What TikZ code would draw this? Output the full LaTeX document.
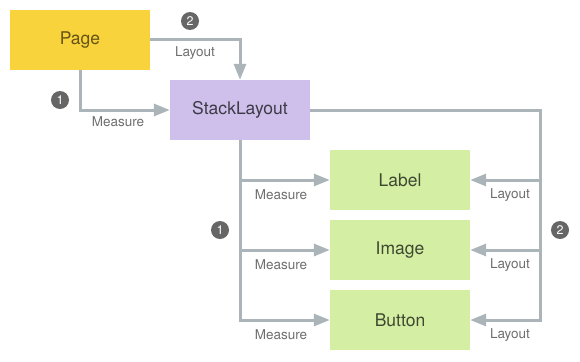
\documentclass[tikz,border=0pt]{standalone}
\usepackage{fontspec}
\setmainfont{TeX Gyre Heros}
\usepackage{xcolor}
\usetikzlibrary{positioning,calc,arrows.meta}

\definecolor{pagefill}{HTML}{F9D33C}
\definecolor{stackfill}{HTML}{CEC0EB}
\definecolor{viewfill}{HTML}{D4EFA4}
\definecolor{wire}{HTML}{AAB4B9}
\definecolor{badgefill}{HTML}{666666}
\definecolor{caption}{HTML}{6E6E6E}

\tikzset{
  box/.style={minimum width=140pt, minimum height=60pt, inner sep=0pt, font=\fontsize{17.5}{20}\selectfont},
  wireline/.style={draw=wire, line width=3pt, -{Triangle[length=16pt, width=12pt]}},
  badge/.style={circle, fill=badgefill, text=white, minimum size=18pt, inner sep=0pt, font=\fontsize{12.5}{12}\selectfont},
  tag/.style={text=caption, font=\fontsize{13.5}{15}\selectfont, inner sep=0pt}
}

\begin{document}
\begin{tikzpicture}[x=1pt, y=-1pt]
  \useasboundingbox (0,0) rectangle (580,361);

  % Boxes
  \node[box, fill=pagefill, text=pagefill!40!black] (page) at (80,40) {Page};
  \node[box, fill=stackfill, text=stackfill!30!black] (stack) at (240,110) {StackLayout};
  \node[box, fill=viewfill, text=viewfill!30!black] (label) at (400,180) {Label};
  \node[box, fill=viewfill, text=viewfill!30!black] (image) at (400,250) {Image};
  \node[box, fill=viewfill, text=viewfill!30!black] (button) at (400,320) {Button};
  \coordinate (rail) at (540,110);

  % Page to StackLayout
  \draw[wireline] (page.south) |- (stack.west);
  \draw[wireline] (page.east) -| (stack.north);
  \node[badge] (pmeasure) at (60,100) {1};
  \node[tag] at (118,122) {Measure};
  \node[badge] (playout) at (190,21) {2};
  \node[tag] at (195,53) {Layout};

  % Measure pass
  \draw[wireline] (stack.south) |- (label.west);
  \draw[wireline] (stack.south) |- (image.west);
  \draw[wireline] (stack.south) |- (button.west);
  \node[badge] (cmeasure) at (220,230) {1};

  % Layout pass
  \draw[wireline] (stack.east) -- (rail) |- (label.east);
  \draw[wireline] (rail) |- (image.east);
  \draw[wireline] (rail) |- (button.east);
  \node[badge] (clayout) at (560,230) {2};

  \foreach \y in {195,265,335} {
    \node[tag] at (281,\y) {Measure};
    \node[tag] at (510,\y) {Layout};
  }
\end{tikzpicture}
\end{document}
